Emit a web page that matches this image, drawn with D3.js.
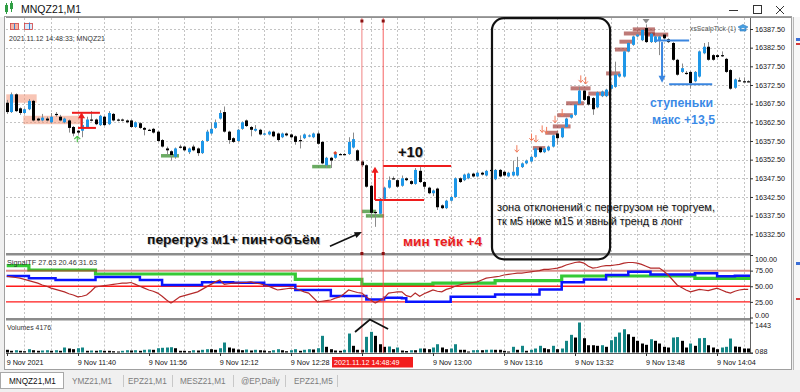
<!DOCTYPE html>
<html><head><meta charset="utf-8">
<script src="https://cdn.jsdelivr.net/npm/d3@7"></script>
<style>
body{margin:0;background:#f0f0f0;}
svg{display:block;font-family:"Liberation Sans",Arial,sans-serif;}
</style>
</head><body>
<svg id="c" width="800" height="392"></svg>
<script>
// ---------------- DATA ----------------
// one row per 1-minute bar: [open, high, low, close]; bar 0 = 9 Nov 11:24
const ohlc = [
[16367.75,16368.5,16364.75,16365.25],[16365.25,16370.5,16365,16370],[16370,16370.25,16365.25,16365.5],[16366.25,16366.5,16364.5,16365],[16365,16366.25,16364.75,16366],
[16366,16368.75,16365.75,16368.25],[16368.25,16368.5,16362.75,16363],[16363.5,16363.75,16362.75,16363],[16363,16364.75,16362.75,16363.75],[16363.5,16364,16362.75,16363],
[16362.5,16365,16362.25,16364],[16364.75,16365.25,16364,16364.5],[16364,16364.5,16362.75,16363],[16362.5,16363.75,16362.25,16363.5],[16363,16363.25,16359.75,16361],
[16361.25,16361.5,16358.75,16359.5],[16360.25,16360.5,16359.25,16359.75],[16360.25,16364,16358.5,16361.75],[16361.25,16364,16361,16363.25],[16363.25,16365.5,16362.75,16363],
[16363.25,16363.5,16361.75,16362],[16361.75,16364.5,16361.5,16364.25],[16364,16364.25,16361.5,16361.75],[16362,16365.5,16361.75,16365],[16364.75,16365,16362.75,16363],
[16363.25,16363.5,16362.75,16363],[16363.25,16363.5,16362.75,16363],[16363,16363.25,16362.25,16362.5],[16363,16363.25,16361,16361.25],[16361.25,16362.75,16361,16362.5],
[16362.25,16362.5,16360.75,16361],[16361,16361.25,16359,16360.5],[16360.5,16360.75,16360.25,16360.5],[16360.75,16361,16359.5,16359.75],[16360,16360.25,16357.25,16357.5],
[16357.75,16358,16355.75,16356],[16355.5,16356,16353.75,16355],[16354.75,16355,16352.25,16353.75],[16353.25,16355.75,16352.75,16355.5],[16356,16356.5,16355.5,16356],
[16356,16356.25,16354.75,16355],[16354.5,16355.75,16354,16355.5],[16356,16356.5,16354.75,16355],[16355.5,16355.75,16353.5,16354.25],[16354.25,16357.75,16354,16357.5],
[16357.5,16360.5,16357.25,16360],[16359.5,16362.5,16359.25,16360.75],[16361,16363.25,16360.75,16362.5],[16363.5,16365.75,16363.25,16365],[16365.25,16366.75,16359.75,16360],
[16360,16360.25,16356.75,16357.75],[16358.25,16358.5,16357,16357.25],[16357.5,16360.75,16357.25,16360.5],[16360.75,16362.75,16360.5,16362.5],[16363,16363.25,16361.25,16361.5],
[16361.25,16361.5,16358.75,16360.5],[16360.25,16361.75,16360,16360.75],[16360.5,16360.75,16359,16359.25],[16359.25,16359.75,16359,16359.5],[16359.25,16360.25,16359,16360],
[16360,16360.25,16358.5,16358.75],[16359.5,16359.75,16357.25,16357.75],[16358.5,16359.75,16358.25,16359.5],[16359.5,16359.75,16358.75,16359],[16359.25,16359.5,16358.25,16358.5],
[16358.75,16359,16356.5,16357.25],[16357.75,16359,16355.5,16357.75],[16358.25,16359.5,16358,16359.25],[16358.75,16359.25,16358.5,16359],[16358.5,16359.75,16358.25,16359.5],
[16359.5,16360,16356.5,16356.75],[16357.25,16357.5,16351.25,16351.5],[16351,16353.25,16350.25,16353],[16353,16353.25,16350.25,16352.25],[16353,16354.25,16352.75,16354],
[16354,16354.25,16353.75,16354],[16354,16354.25,16353.75,16354],[16354,16358.5,16353.75,16357.25],[16355.75,16359.75,16355.5,16358],[16355,16355.25,16352,16352.25],
[16352,16352.25,16350.5,16351],[16351,16351.25,16345,16345.25],[16345.5,16345.75,16336.75,16338.25],[16338.5,16338.75,16334.5,16338.25],[16338,16342.25,16337.75,16342],
[16342,16345.25,16341.75,16345],[16345,16348,16344.75,16347],[16347.5,16348,16347.25,16347.5],[16347,16347.25,16345,16345.25],[16345.5,16348.25,16345.25,16347.5],
[16347.5,16347.75,16346.75,16347],[16346.75,16347,16345.75,16346],[16346,16350.25,16345.75,16349.75],[16349.5,16350.5,16346.25,16346.5],[16346.5,16346.75,16344.5,16345.25],
[16345,16345.25,16343.25,16343.5],[16343.5,16344.5,16342.75,16344.25],[16344.75,16345,16339,16339.75],[16340.25,16340.5,16339.25,16339.5],[16339.5,16341.75,16339.25,16341.5],
[16341.5,16342.75,16341.25,16342.5],[16342.5,16347.75,16342.25,16347.5],[16347.5,16347.75,16346.25,16346.5],[16347,16348.75,16346.75,16348.5],[16347.5,16349,16347.25,16348.75],
[16348.75,16349,16347.75,16348],[16348,16349.25,16347.75,16349],[16349,16349.25,16348.25,16348.5],[16348.25,16349.75,16348,16349.5],[16349.75,16350,16349.5,16349.75],
[16347.25,16350,16347,16349.75],[16349.75,16350,16347.75,16348],[16349.25,16349.5,16348,16348.25],[16348,16349.25,16347.75,16349],[16348.25,16352.25,16348,16349.25],
[16348.25,16353.25,16348,16350.5],[16350.5,16351.75,16350.25,16351.5],[16351.5,16352.5,16351.25,16352.25],[16352,16353.5,16351.75,16353.25],[16353.25,16355.75,16353,16355.5],
[16355.75,16356,16354.25,16354.5],[16354.5,16355.75,16354.25,16355.5],[16355,16356.25,16354.75,16356],[16356,16359.25,16355.75,16359],[16359.5,16359.75,16356.5,16358.25],
[16358.5,16361.25,16358.25,16361],[16361.25,16363.75,16361,16363.5],[16363.75,16364.75,16363.5,16364.5],[16364.5,16367.5,16364.25,16367.25],[16367.5,16372,16367.25,16371],
[16371,16371.25,16368.25,16368.5],[16369.5,16369.75,16367,16367.25],[16369,16369.25,16364.5,16366],[16366.5,16370.75,16366.25,16370.5],[16369.5,16371,16369.25,16370.75],
[16369.5,16371.5,16369.25,16371.25],[16371.5,16372.75,16371.25,16372.5],[16372,16378.75,16371.75,16375.25],[16374.75,16375.75,16374.5,16375.5],[16374.75,16381.75,16374.5,16381.5],
[16381.5,16384,16381.25,16383.75],[16383.25,16385.75,16383,16385.5],[16385.5,16386.25,16385.25,16386],[16384.5,16387.5,16384.25,16387.25],[16387.75,16388.75,16383.75,16384],
[16384,16386.5,16383.75,16386.25],[16384,16385.75,16383.75,16385.5],[16384.5,16385.75,16380.5,16385.5],[16386,16386.25,16384.75,16385],[16384.75,16385,16383.75,16384],
[16383.75,16384,16379,16379.25],[16379.25,16379.5,16375,16375.25],[16376,16378.25,16375.75,16377],[16375.75,16376.25,16375.25,16375.75],[16376,16376.25,16371.5,16373],
[16373.5,16376.25,16373.25,16376],[16374.75,16381.75,16374.5,16381.5],[16381,16383.75,16380.75,16382.75],[16382.75,16384,16379,16379.25],[16380.5,16380.75,16379,16379.25],
[16380.5,16380.75,16379.75,16380],[16380.5,16381.5,16380,16380.5],[16379.5,16379.75,16375.75,16376],[16376.5,16376.75,16371.25,16371.5],[16371.75,16374.25,16371.5,16374],
[16373.75,16374.5,16373.5,16373.75],[16373.5,16374.5,16373.25,16373.5],[16373.5,16373.75,16373.25,16373.5]
];
const volumes = [
130,82,110,82,62,158,110,82,96,110,
82,110,82,240,192,158,206,240,82,96,
82,110,82,82,62,48,82,110,96,110,
82,130,144,130,206,226,240,254,206,82,
82,62,110,96,130,158,158,130,206,480,
240,192,144,110,144,96,130,110,96,62,
110,158,110,62,110,158,82,130,158,144,
206,802,274,158,96,82,130,912,322,130,
130,754,994,802,398,274,288,158,240,96,
72,110,110,192,192,158,240,398,240,158,
192,398,130,130,48,110,116,110,130,136,
130,130,82,48,274,130,322,82,130,192,
322,206,158,322,158,192,562,850,720,1443,
686,350,350,322,350,274,590,754,960,1118,
878,754,562,432,370,638,562,432,274,240,
720,740,562,240,432,322,686,700,350,240,
158,240,274,672,288,274,192,192
];
// SignalTF oscillator lines
const redLine = [
66,65,64,63,61,59,57,55,52,50, 47,45,43,41,38,36,33,34,36,42,
49,50,51,52,53,54,55,55,56,53, 50,47,44,42,39,34,28,23,28,33,
35,37,39,41,45,49,53,57,60,53, 54,55,55,56,56,57,55,54,52,50,
47,44,45,46,47,46,44,41,39,32, 25,26,27,28,31,33,38,44,42,40,
39,33,28,23,27,31,39,40,41,41, 35,33,39,34,38,41,44,42,41,45,
47,50,52,54,55,56,57,60,63,64, 65,66,68,69,70,71,71,72,73,74,
75,77,77,78,79,81,84,86,88,89, 87,82,79,80,82,83,83,84,85,87,
88,88,87,85,82,79,79,79,74,68, 60,52,48,44,41,43,45,44,43,45,
47,44,41,39,42,44,45,45
];
const greenSteps = [[0,83],[5,76],[20,69.6],[65,61],[80,53],[96,55],[110,59],[125,66.4],[155,62.7]];
const blueSteps = [[0,66.4],[5,62.7],[11,60],[20,65],[30,60],[35,52],[44,56.3],[51,55.7],[58,52],[65,44],[73,34.4],[81,29],[85,31.7],[89,30.7],[90,25.3],[100,33.3],[110,37],[120,45],[125,56.3],[130,61],[135,68],[140,73.3],[145,69],[155,71],[160,66],[164,67]];
const indLevels = [75,50,25];
const priceTicks = [16387.5,16382.5,16377.5,16372.5,16367.5,16362.5,16357.5,16352.5,16347.5,16342.5,16337.5,16332.5];
const indTicks = [100,75,50,25,0];
const volTicks = [1443,0];
const timeLabels = [[0,"9 Nov 2021"],[16,"9 Nov 11:40"],[32,"9 Nov 11:56"],[48,"9 Nov 12:12"],[64,"9 Nov 12:28"],[80,"9 Nov 12:44"],[96,"9 Nov 13:00"],[112,"9 Nov 13:16"],[128,"9 Nov 13:32"],[144,"9 Nov 13:48"],[160,"9 Nov 14:04"]];
const tabs = ["MNQZ21,M1","YMZ21,M1","EPZ21,M1","MESZ21,M1","@EP,Daily","EPZ21,M5"];
// annotation objects in bar-index / price units
const salmonZones = [[-0.1,6.75,16370,16367.75],[3.75,17,16364.25,16362]];
const greenMarks = [[34.75,38.8,16353.6],[68.8,73.0,16350.7],[80,83.2,16338.7],[80.9,85,16337.5]];
const brownLevels = [[118.5,121.3,16355.6],[121.3,124.2,16359.7],[123,127,16361.4],[124,127.5,16364.4],[126,130,16367.6],[127,131.5,16371.6],[131,136,16370.2],[135,138.2,16375.6],[137,140.4,16382],[138,141.5,16384.1],[139,146,16386.3],[141,146,16387.4],[144,149,16386]];
const downArrows = [[114.9,16354.5],[118.2,16357.6],[119.2,16357.2],[120.6,16359.8],[121.6,16359.4],[123.5,16362.4],[125.1,16364.2],[129.3,16373.2],[130.4,16372.8]];
const redLevels = [[14.7,21,16365.05],[16.05,20.1,16361],[84.75,100.1,16350.8],[82.95,94,16341.7]];
const blueLevels = [[146,153.7,16384.4],[149.2,158.9,16372.7]];
const crossLines = [80,84.8];
const flatBox = [109.3,135.9,16390.4,16325.8];

// ---------------- SCALES ----------------
const X0 = 6.7, STEP = 4.44;
const x = d3.scaleLinear().domain([0,167]).range([X0, X0 + 167*STEP]);
const y = d3.scaleLinear().domain([16332.5,16387.5]).range([234.3,29]);
const yi = d3.scaleLinear().domain([0,100]).range([317.5,255]);
const yv = d3.scaleLinear().domain([0,1443]).range([352.5,322.5]);
const PL = 6, PR = 750;
const MT = 18, MB = 253, IT = 256, IB = 318, VT = 320.5, VB = 353;

const svg = d3.select('#c');
svg.append('rect').attr('width',800).attr('height',392).attr('fill','#f0f0f0');
// title bar
svg.append('rect').attr('width',800).attr('height',17).attr('fill','#ffffff');
const ic = svg.append('g');
ic.append('rect').attr('x',5).attr('y',5).attr('width',3).attr('height',7).attr('fill','#2f9e44');
ic.append('rect').attr('x',10).attr('y',3).attr('width',3).attr('height',6).attr('fill','#2f9e44');
ic.append('line').attr('x1',6.5).attr('x2',6.5).attr('y1',3).attr('y2',14).attr('stroke','#2f9e44');
ic.append('line').attr('x1',11.5).attr('x2',11.5).attr('y1',1).attr('y2',12).attr('stroke','#2f9e44');
svg.append('text').attr('x',21).attr('y',13).attr('font-size',10.5).attr('fill','#111').text('MNQZ21,M1');
svg.append('line').attr('x1',729).attr('x2',738).attr('y1',10.5).attr('y2',10.5).attr('stroke','#333');
svg.append('rect').attr('x',753.5).attr('y',5.5).attr('width',8).attr('height',8).attr('fill','none').attr('stroke','#333');
svg.append('path').attr('d','M776,6 L784,14 M784,6 L776,14').attr('stroke','#333');

// chart window
svg.append('rect').attr('x',4.5).attr('y',16.5).attr('width',787).attr('height',353).attr('fill','#ffffff').attr('stroke','#a0a0a0');
svg.append('rect').attr('x',793).attr('y',17).attr('width',7).attr('height',353).attr('fill','#f7f7f7');
svg.append('line').attr('x1',793.5).attr('x2',793.5).attr('y1',17).attr('y2',370).attr('stroke','#b8b8b8');
svg.append('rect').attr('x',796).attr('y',38).attr('width',4).attr('height',3).attr('fill','#3b6fd6');
svg.append('rect').attr('x',796).attr('y',43).attr('width',4).attr('height',2).attr('fill','#d23a3a');
svg.append('rect').attr('x',796).attr('y',262).attr('width',4).attr('height',3).attr('fill','#3b6fd6');
svg.append('rect').attr('x',796).attr('y',298).attr('width',4).attr('height',2).attr('fill','#d23a3a');

const defs = svg.append('defs');
[['cm',MT,MB],['ci',IT,IB],['cv',VT,VB]].forEach(([id,t,b])=>{
  defs.append('clipPath').attr('id',id).append('rect').attr('x',PL).attr('y',t).attr('width',PR-PL).attr('height',b-t);
});

// grid
const grid = svg.append('g').attr('stroke','#c4c4c4').attr('stroke-dasharray','2,2').attr('stroke-width',1);
const vIdx = d3.range(4,168,6);
[[MT,MB],[IT,IB],[VT,VB]].forEach(([t,b])=>{
  grid.selectAll(null).data(vIdx).join('line')
    .attr('x1',d=>Math.round(x(d))+0.5).attr('x2',d=>Math.round(x(d))+0.5).attr('y1',t).attr('y2',b);
});
grid.selectAll(null).data(priceTicks).join('line')
  .attr('x1',PL).attr('x2',PR).attr('y1',d=>Math.round(y(d))+0.5).attr('y2',d=>Math.round(y(d))+0.5);

// panel frames / separators
const fr = svg.append('g');
fr.append('line').attr('x1',PR+0.5).attr('x2',PR+0.5).attr('y1',MT).attr('y2',VB).attr('stroke','#606060');
fr.append('line').attr('x1',PL).attr('x2',791).attr('y1',MT-0.5).attr('y2',MT-0.5).attr('stroke','#909090');
fr.append('rect').attr('x',PL).attr('y',MB).attr('width',PR-PL).attr('height',2.5).attr('fill','#8c8c8c');
fr.append('rect').attr('x',PL).attr('y',IB).attr('width',PR-PL).attr('height',2.5).attr('fill','#8c8c8c');
fr.append('line').attr('x1',PL).attr('x2',PR+3).attr('y1',VB+0.5).attr('y2',VB+0.5).attr('stroke','#606060');

// ---------------- MAIN PANEL ----------------
const gm = svg.append('g').attr('clip-path','url(#cm)');
gm.selectAll(null).data(salmonZones).join('rect')
  .attr('x',d=>x(d[0])).attr('width',d=>x(d[1])-x(d[0]))
  .attr('y',d=>y(d[2])).attr('height',d=>y(d[3])-y(d[2]))
  .attr('fill','rgba(242,150,120,0.55)');
gm.selectAll(null).data(greenMarks).join('rect')
  .attr('x',d=>x(d[0])).attr('width',d=>x(d[1])-x(d[0]))
  .attr('y',d=>y(d[2])-1.5).attr('height',3.5)
  .attr('fill','rgba(70,150,60,0.8)');
gm.selectAll(null).data(brownLevels).join('rect')
  .attr('x',d=>x(d[0])).attr('width',d=>x(d[1])-x(d[0]))
  .attr('y',d=>y(d[2])-2).attr('height',4)
  .attr('fill','rgba(150,40,35,0.62)');

// candles
const cx = i => Math.round(x(i)) + 0.5;
gm.selectAll('line.wick').data(ohlc).join('line').attr('class','wick')
  .attr('x1',(d,i)=>cx(i)).attr('x2',(d,i)=>cx(i))
  .attr('y1',d=>y(d[1])).attr('y2',d=>y(d[2]))
  .attr('stroke','#8a8a8a').attr('stroke-width',1);
gm.selectAll('rect.body').data(ohlc).join('rect').attr('class','body')
  .attr('x',(d,i)=>cx(i)-1.5).attr('width',3)
  .attr('y',d=>y(Math.max(d[0],d[3])))
  .attr('height',d=>Math.max(1.2, Math.abs(y(d[0])-y(d[3]))))
  .attr('fill',d=>d[3]>d[0] ? '#1e97e8' : '#000000');

gm.selectAll(null).data(downArrows).join('path')
  .attr('d',d=>{const ax=x(d[0]), ay=y(d[1]); return `M${ax},${ay-7} L${ax},${ay} M${ax-2.2},${ay-2.5} L${ax},${ay} L${ax+2.2},${ay-2.5}`;})
  .attr('stroke','#f07a5a').attr('stroke-width',1).attr('fill','none');
gm.append('path').attr('d',`M${x(74)-2},${y(16354.3)} L${x(74)},${y(16354.3)-2} L${x(74)+2},${y(16354.3)} L${x(74)},${y(16354.3)+2}Z`).attr('fill','#d9442b');
gm.append('path').attr('d',`M${x(144)-3.5},${MT+1} L${x(144)+3.5},${MT+1} L${x(144)},${MT+5.5}Z`).attr('fill','#8a8a8a');

gm.selectAll(null).data(redLevels).join('line')
  .attr('x1',d=>x(d[0])).attr('x2',d=>x(d[1])).attr('y1',d=>y(d[2])).attr('y2',d=>y(d[2]))
  .attr('stroke','#ee1c1c').attr('stroke-width',2);
function upArrow(g, i, p0, p1, color, w){
  const ax=x(i), a0=y(p0), a1=y(p1);
  g.append('line').attr('x1',ax).attr('x2',ax).attr('y1',a0).attr('y2',a1+5).attr('stroke',color).attr('stroke-width',w);
  g.append('path').attr('d',`M${ax-3.5},${a1+6} L${ax+3.5},${a1+6} L${ax},${a1}Z`).attr('fill',color);
}
upArrow(gm, 16.85, 16361.25, 16365.2, '#ee1c1c', 2);
upArrow(gm, 82.95, 16341.7, 16350.6, '#ee1c1c', 2);
(function(){const ax=x(15.9), ay=y(16358.8);
  gm.append('path').attr('d',`M${ax},${ay} L${ax-3},${ay+3} M${ax},${ay} L${ax+3},${ay+3} M${ax},${ay} L${ax},${ay+6}`).attr('stroke','#4cc24c').attr('stroke-width',1.2).attr('fill','none');})();

gm.selectAll(null).data(blueLevels).join('line')
  .attr('x1',d=>x(d[0])).attr('x2',d=>x(d[1])).attr('y1',d=>y(d[2])).attr('y2',d=>y(d[2]))
  .attr('stroke','#3a86e0').attr('stroke-width',2);
(function(){const ax=x(147.6), a0=y(16384), a1=y(16373.1);
  gm.append('line').attr('x1',ax).attr('x2',ax).attr('y1',a0).attr('y2',a1-6).attr('stroke','#3a86e0').attr('stroke-width',2);
  gm.append('path').attr('d',`M${ax-3.5},${a1-7} L${ax+3.5},${a1-7} L${ax},${a1}Z`).attr('fill','#3a86e0');})();

// ---------------- INDICATOR PANEL ----------------
const gi = svg.append('g').attr('clip-path','url(#ci)');
const stepPts = s => s.concat([[167.5, s[s.length-1][1]]]);
const lineStep = d3.line().x(d=>x(d[0])).y(d=>yi(d[1])).curve(d3.curveStepAfter);
gi.append('path').attr('d',lineStep(stepPts(greenSteps))).attr('fill','none').attr('stroke','#35c935').attr('stroke-width',3.2);
gi.selectAll(null).data(indLevels).join('line')
  .attr('x1',PL).attr('x2',PR).attr('y1',d=>yi(d)).attr('y2',d=>yi(d))
  .attr('stroke',d=>d===75?'rgba(190,50,40,0.55)':'#ff1a1a').attr('stroke-width',d=>d===75?2:1.3);
gi.append('path').attr('d',lineStep(stepPts(blueSteps))).attr('fill','none').attr('stroke','#0a14ff').attr('stroke-width',2.5);
gi.append('path').attr('d',d3.line().x((d,i)=>x(i)).y(d=>yi(d))(redLine)).attr('fill','none').attr('stroke','#b42a2a').attr('stroke-width',1.2);

// ---------------- VOLUME PANEL ----------------
const gv = svg.append('g').attr('clip-path','url(#cv)');
gv.selectAll('rect').data(volumes).join('rect')
  .attr('x',(d,i)=>cx(i)-1.5).attr('width',3)
  .attr('y',d=>yv(d)).attr('height',d=>yv(0)-yv(d))
  .attr('fill',(d,i)=> i>0 && d>volumes[i-1] ? '#138585' : '#000000');

// ---------------- AXES ----------------
function styleAxis(g){
  g.select('.domain').remove();
  g.selectAll('.tick line').attr('stroke','#333');
  g.selectAll('.tick text').attr('font-size',7.2).attr('fill','#111').attr('font-family','"Liberation Sans",Arial,sans-serif');
}
svg.append('g').attr('transform',`translate(${PR},0)`)
  .call(d3.axisRight(y).tickValues(priceTicks).tickFormat(d3.format('.2f')).tickSize(3).tickPadding(2)).call(styleAxis);
const ia = svg.append('g').attr('transform',`translate(${PR},0)`)
  .call(d3.axisRight(yi).tickValues(indTicks).tickFormat(d3.format('.2f')).tickSize(3).tickPadding(2)).call(styleAxis);
ia.selectAll('.tick text').filter(d=>d===100).attr('dy','0.95em');
ia.selectAll('.tick text').filter(d=>d===0).attr('dy','0.05em');
const va = svg.append('g').attr('transform',`translate(${PR},0)`)
  .call(d3.axisRight(yv).tickValues(volTicks).tickFormat(d3.format('d')).tickSize(3).tickPadding(2)).call(styleAxis);
va.selectAll('.tick text').filter(d=>d===1443).attr('dy','0.75em');
va.selectAll('.tick text').filter(d=>d===0).attr('dy','0.1em');
svg.append('text').attr('x',759.5).attr('y',354).attr('font-size',7.2).attr('fill','#111').text('88');

// time axis
const ta = svg.append('g');
ta.selectAll('line').data(timeLabels).join('line')
  .attr('x1',d=>cx(d[0])).attr('x2',d=>cx(d[0])).attr('y1',VB).attr('y2',VB+3).attr('stroke','#333');
ta.selectAll('text').data(timeLabels.filter(d=>d[0]!==80)).join('text')
  .attr('x',d=>x(d[0])).attr('y',365).attr('font-size',7.2).attr('fill','#111').text(d=>d[1]);
// crosshair time label (drawn over the 12:44 label, which shows through)
svg.append('rect').attr('x',332).attr('y',357).attr('width',81).attr('height',10.5).attr('fill','#f21d1d');
svg.append('text').attr('x',334).attr('y',365).attr('font-size',7.2).attr('fill','#ffffff').text('2021.11.12 14:48:49');

// crosshair vertical lines
const cl = svg.append('g');
cl.selectAll('line').data(crossLines).join('line')
  .attr('x1',d=>x(d)).attr('x2',d=>x(d)).attr('y1',MT).attr('y2',VB)
  .attr('stroke',(d,i)=>i===0?'rgba(235,90,90,0.75)':'rgba(245,70,70,0.85)').attr('stroke-width',1);
cl.selectAll('rect.t').data(crossLines).join('rect').attr('class','t')
  .attr('x',d=>x(d)-1.5).attr('y',MT+1.5).attr('width',3).attr('height',3).attr('fill','#8b1010');
cl.selectAll('rect.b').data(crossLines).join('rect').attr('class','b')
  .attr('x',d=>x(d)-1.5).attr('y',MB-1).attr('width',3).attr('height',3).attr('fill','#8b1010');

// rounded box
svg.append('rect').attr('x',x(flatBox[0])).attr('y',y(flatBox[2]))
  .attr('width',x(flatBox[1])-x(flatBox[0])).attr('height',y(flatBox[3])-y(flatBox[2]))
  .attr('rx',12).attr('ry',12).attr('fill','none').attr('stroke','#111').attr('stroke-width',2.2);

(function(){const x1=x(72.8), y1=y(16329.3), x2=x(80), y2=y(16333.1);
  const ang=Math.atan2(y2-y1,x2-x1);
  svg.append('line').attr('x1',x1).attr('y1',y1).attr('x2',x2-6*Math.cos(ang)).attr('y2',y2-6*Math.sin(ang)).attr('stroke','#111').attr('stroke-width',1.6);
  const p=(a,r)=>[x2-r*Math.cos(ang+a), y2-r*Math.sin(ang+a)];
  svg.append('path').attr('d',`M${x2},${y2} L${p(0.4,8)} L${p(-0.4,8)}Z`).attr('fill','#111');})();
svg.append('path').attr('d',d3.line()([[x(78.45),yv(986)],[x(81.8),yv(1587)],[x(85.9),yv(1130)]]))
  .attr('fill','none').attr('stroke','#111').attr('stroke-width',1.8);

// ---------------- TEXTS ----------------
function txt(t, px, py, opts){
  const o = Object.assign({size:7.2, weight:'normal', fill:'#222', len:null, shadow:null, halo:null}, opts||{});
  if(o.shadow){
    const s = svg.append('text').attr('x',px+1).attr('y',py+1).attr('font-size',o.size).attr('font-weight',o.weight).attr('fill',o.shadow).text(t);
    if(o.len) s.attr('textLength',o.len).attr('lengthAdjust','spacingAndGlyphs');
  }
  const e = svg.append('text').attr('x',px).attr('y',py).attr('font-size',o.size).attr('font-weight',o.weight).attr('fill',o.fill).text(t);
  if(o.len) e.attr('textLength',o.len).attr('lengthAdjust','spacingAndGlyphs');
  if(o.halo) e.attr('stroke',o.halo).attr('stroke-width',2.5).attr('paint-order','stroke').attr('stroke-linejoin','round');
  return e;
}
txt('2021.11.12 14:48:33; MNQZ21', 9, 41, {len:96, fill:'#333'});
txt('SignalTF 27.63 20.46 31.63', 7, 265, {len:90, fill:'#333'});
txt('Volumes 4176', 7, 329.5, {len:44, fill:'#333'});
txt('xsScalpTick (1)', 690, 30.5, {len:46, fill:'#555'});
svg.append('path').attr('d','M738,27 L743,24.5 L748,27 L743,29.5Z M740,28 L740,31 L746,31 L746,28').attr('fill','#4aa0e0').attr('stroke','#2a78c0').attr('stroke-width',0.6);
svg.append('rect').attr('x',10.5).attr('y',23.5).attr('width',8).attr('height',6).attr('fill','#f5b5a5').attr('stroke','#d04040').attr('stroke-width',0.8);
svg.append('line').attr('x1',14.5).attr('x2',14.5).attr('y1',23.5).attr('y2',29.5).attr('stroke','#3a7fd0');
svg.append('rect').attr('x',24.5).attr('y',23.5).attr('width',8).attr('height',6).attr('fill','#dbe8f8').attr('stroke','#d04040').attr('stroke-width',0.8);
svg.append('line').attr('x1',29.5).attr('x2',29.5).attr('y1',22.5).attr('y2',29.5).attr('stroke','#3a7fd0');

txt('+10', 398, 157, {size:15, weight:'bold', fill:'#111', len:25, shadow:'rgba(0,0,0,0.25)'});
txt('перегруз м1+ пин+объём', 147, 244, {size:13.5, weight:'bold', fill:'#111', len:173, shadow:'rgba(0,0,0,0.28)'});
txt('мин тейк +4', 403, 246, {size:13.5, weight:'bold', fill:'#e82020', len:79, shadow:'rgba(150,0,0,0.2)'});
txt('зона отклонений с перегрузом не торгуем,', 497, 211, {size:10.5, fill:'#111', len:218, shadow:'rgba(0,0,0,0.18)'});
txt('тк м5 ниже м15 и явный тренд в лонг', 497, 224.5, {size:10.5, fill:'#111', len:186, shadow:'rgba(0,0,0,0.18)'});
txt('ступеньки', 650, 107, {size:13.5, weight:'bold', fill:'#3b8ae6', len:63, halo:'#ffffff'});
txt('макс +13,5', 652, 124, {size:13.5, weight:'bold', fill:'#3b8ae6', len:63, halo:'#ffffff'});

// ---------------- TABS ----------------
const tabX = [9,72,128,180,241,294];
const sepX = [123,172,233,285,337];
svg.append('rect').attr('x',0.5).attr('y',372.5).attr('width',63).attr('height',16).attr('fill','#ffffff').attr('stroke','#a8a8a8');
svg.selectAll('line.tsep').data(sepX).join('line').attr('class','tsep')
  .attr('x1',d=>d+0.5).attr('x2',d=>d+0.5).attr('y1',375).attr('y2',387).attr('stroke','#c8c8c8');
svg.selectAll('text.tab').data(tabs).join('text').attr('class','tab')
  .attr('x',(d,i)=>tabX[i]).attr('y',384).attr('font-size',8.2)
  .attr('fill',(d,i)=>i===0?'#111':'#7c7c7c').text(d=>d);
</script>
</body></html>
